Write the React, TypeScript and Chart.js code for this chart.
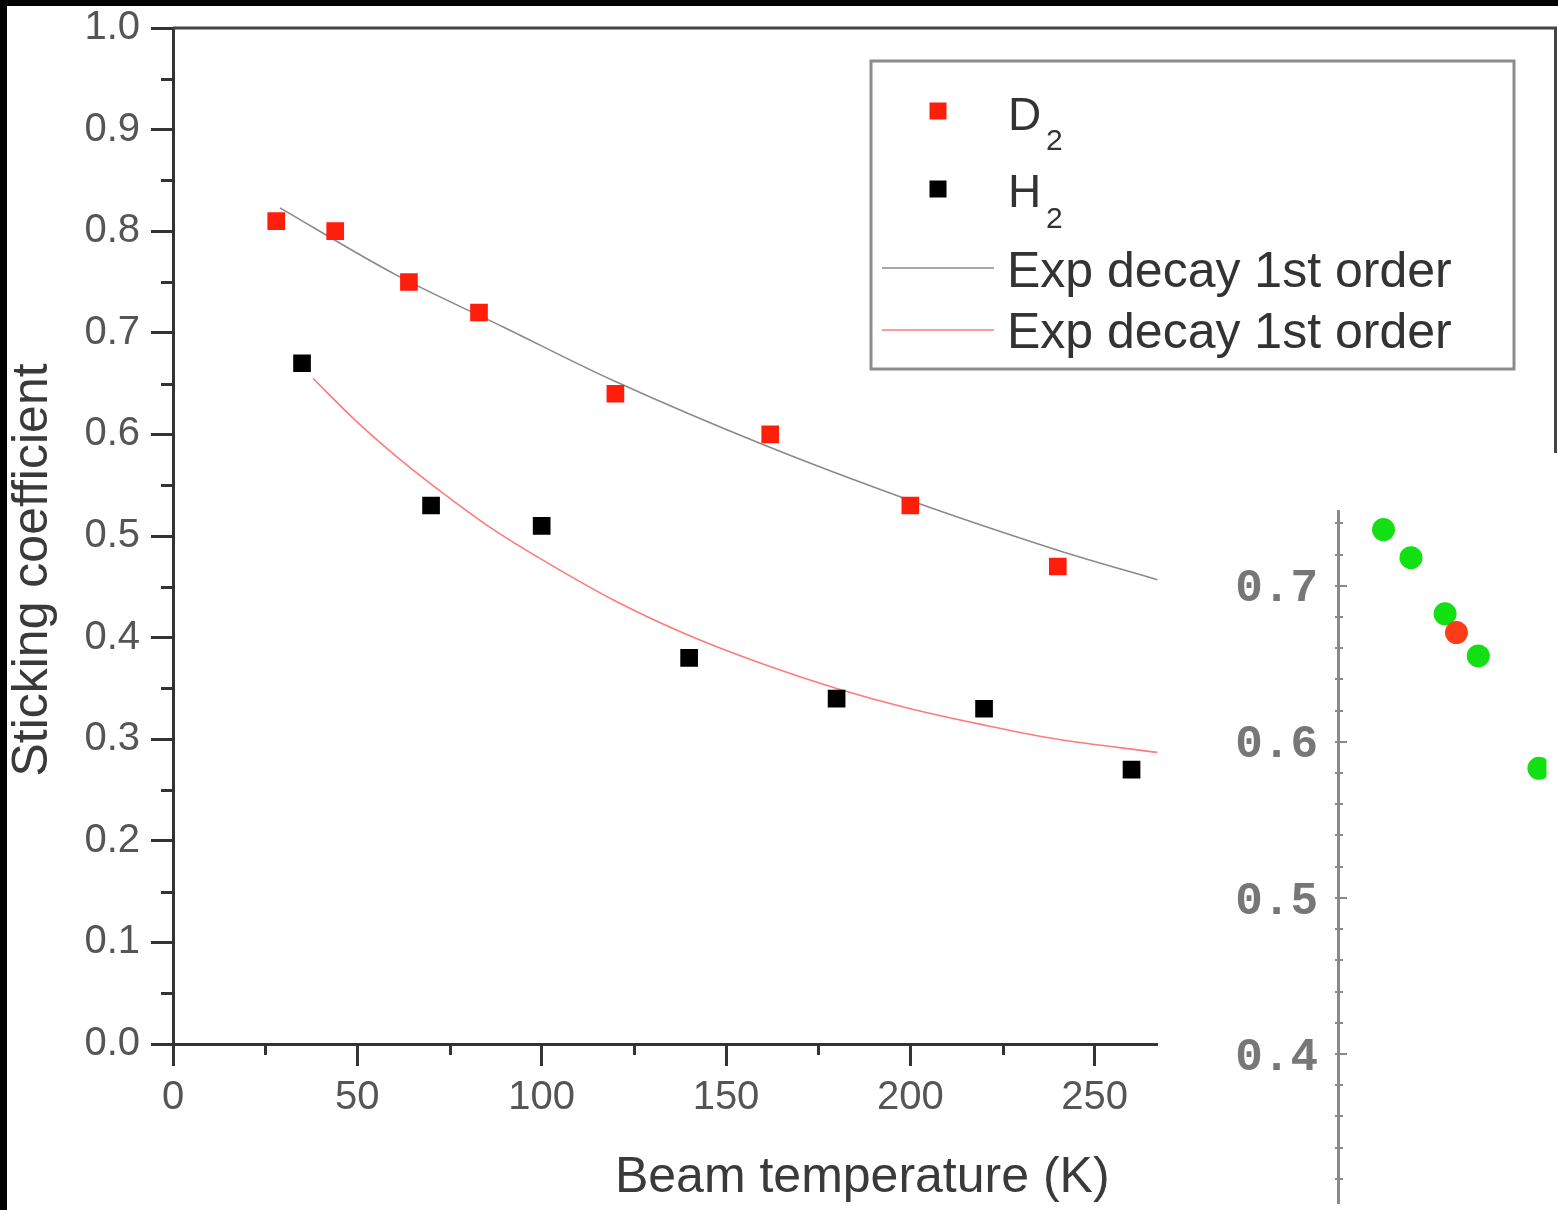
import React, { useEffect, useRef } from "react";
import { Chart, registerables } from "chart.js";
Chart.register(...registerables);

// ---- main chart data ----
const D2_T = [28, 44, 64, 83, 120, 162, 200, 240];
const D2_S = [0.81, 0.80, 0.75, 0.72, 0.64, 0.60, 0.53, 0.47];
const H2_T = [35, 70, 100, 140, 180, 220, 260];
const H2_S = [0.67, 0.53, 0.51, 0.38, 0.34, 0.33, 0.27];
const FIT_D2_T = [29, 60, 90, 120, 160, 200, 240, 267];
const FIT_D2_S = [0.823, 0.758, 0.705, 0.652, 0.590, 0.535, 0.486, 0.457];
const FIT_H2_T = [38, 50, 60, 70, 85, 100, 120, 140, 160, 180, 200, 220, 240, 267];
const FIT_H2_S = [0.655, 0.612, 0.580, 0.551, 0.511, 0.477, 0.436, 0.402, 0.374, 0.350, 0.330, 0.314, 0.300, 0.287];

const X_TICKS = [0, 50, 100, 150, 200, 250];
const X_MINOR = [25, 75, 125, 175, 225];
const Y_TICKS = [0, 0.1, 0.2, 0.3, 0.4, 0.5, 0.6, 0.7, 0.8, 0.9, 1.0];
const Y_MINOR = [0.05, 0.15, 0.25, 0.35, 0.45, 0.55, 0.65, 0.75, 0.85, 0.95];

const X_TITLE = "Beam temperature (K)";
const Y_TITLE = "Sticking coefficient";
const LEGEND_POINT_LABELS = ["D", "H"];
const LEGEND_SUB = "2";
const LEGEND_LINE_LABELS = ["Exp decay 1st order", "Exp decay 1st order"];

// ---- inset chart data ----
const INSET_GREEN_X = [0.48, 0.77, 1.13, 1.48, 2.12];
const INSET_GREEN_Y = [0.736, 0.718, 0.682, 0.655, 0.583];
const INSET_RED_X = [1.25];
const INSET_RED_Y = [0.670];
const INSET_Y_TICKS = [0.4, 0.5, 0.6, 0.7];
const INSET_Y_MINOR = [0.32, 0.34, 0.36, 0.38, 0.42, 0.44, 0.46, 0.48, 0.52, 0.54, 0.56, 0.58, 0.62, 0.64, 0.66, 0.68, 0.72, 0.74];

const RED = "#ff1e0a";
const FIT_GRAY = "#8a8a8a";
const FIT_PINK = "#ff7a7a";
const AXIS = "#333333";
const SANS = '"Liberation Sans", Arial, sans-serif';
const MONO = '"Liberation Mono", "DejaVu Sans Mono", monospace';

const pts = (xs: number[], ys: number[]) => xs.map((x, i) => ({ x, y: ys[i] }));

export default function App() {
  const mainRef = useRef<HTMLCanvasElement | null>(null);
  const insetRef = useRef<HTMLCanvasElement | null>(null);

  useEffect(() => {
    document.body.style.margin = "0";
    const decor = {
      id: "decor",
      afterDraw(chart: any) {
        const ctx = chart.ctx;
        const ca = chart.chartArea;
        const xs = chart.scales.x;
        const ys = chart.scales.y;
        ctx.save();
        // frame top & right
        ctx.strokeStyle = "#444";
        ctx.lineWidth = 3;
        ctx.beginPath();
        ctx.moveTo(ca.left, ca.top);
        ctx.lineTo(ca.right, ca.top);
        ctx.lineTo(ca.right, ca.bottom);
        ctx.stroke();
        // minor ticks
        ctx.strokeStyle = AXIS;
        ctx.lineWidth = 3;
        ctx.beginPath();
        Y_MINOR.forEach((v) => {
          const py = Math.round(ys.getPixelForValue(v)) + 0.5;
          ctx.moveTo(ca.left - 12, py);
          ctx.lineTo(ca.left, py);
        });
        X_MINOR.forEach((v) => {
          const px = Math.round(xs.getPixelForValue(v)) + 0.5;
          ctx.moveTo(px, ca.bottom);
          ctx.lineTo(px, ca.bottom + 11);
        });
        ctx.stroke();
        // axis titles
        ctx.fillStyle = "#3a3a3a";
        ctx.font = "50px " + SANS;
        ctx.textAlign = "center";
        ctx.textBaseline = "alphabetic";
        ctx.fillText(X_TITLE, (ca.left + ca.right) / 2 - 2, ca.bottom + 148);
        ctx.save();
        ctx.translate(47, 570);
        ctx.rotate(-Math.PI / 2);
        ctx.fillText(Y_TITLE, 0, 0);
        ctx.restore();
        // legend
        const lx = 871, ly = 61, lw = 643, lh = 308;
        ctx.fillStyle = "#fff";
        ctx.fillRect(lx, ly, lw, lh);
        ctx.strokeStyle = "#8c8c8c";
        ctx.lineWidth = 3;
        ctx.strokeRect(lx, ly, lw, lh);
        ctx.fillStyle = RED;
        ctx.fillRect(938 - 8.5, 111 - 8.5, 17, 17);
        ctx.fillStyle = "#000";
        ctx.fillRect(938 - 8.5, 189 - 8.5, 17, 17);
        ctx.lineWidth = 1.5;
        ctx.strokeStyle = FIT_GRAY;
        ctx.beginPath();
        ctx.moveTo(882, 268);
        ctx.lineTo(994, 268);
        ctx.stroke();
        ctx.strokeStyle = FIT_PINK;
        ctx.beginPath();
        ctx.moveTo(882, 330);
        ctx.lineTo(994, 330);
        ctx.stroke();
        ctx.fillStyle = "#333";
        ctx.textAlign = "left";
        ctx.font = "46px " + SANS;
        ctx.fillText(LEGEND_POINT_LABELS[0], 1008, 130);
        ctx.fillText(LEGEND_POINT_LABELS[1], 1008, 207);
        ctx.font = "30px " + SANS;
        ctx.fillText(LEGEND_SUB, 1046, 150);
        ctx.fillText(LEGEND_SUB, 1046, 228);
        ctx.font = "50px " + SANS;
        ctx.fillText(LEGEND_LINE_LABELS[0], 1007, 287);
        ctx.fillText(LEGEND_LINE_LABELS[1], 1007, 348);
        ctx.restore();
      },
    };

    const main = new Chart(mainRef.current as HTMLCanvasElement, {
      type: "scatter",
      data: {
        datasets: [
          { label: "D2", data: pts(D2_T, D2_S), pointStyle: "rect", pointRadius: 12.5, backgroundColor: RED, borderColor: RED, borderWidth: 0 } as any,
          { label: "H2", data: pts(H2_T, H2_S), pointStyle: "rect", pointRadius: 12.5, backgroundColor: "#000", borderColor: "#000", borderWidth: 0 } as any,
          { label: "fitD2", data: pts(FIT_D2_T, FIT_D2_S), showLine: true, pointRadius: 0, borderColor: FIT_GRAY, borderWidth: 1.6, tension: 0.35 } as any,
          { label: "fitH2", data: pts(FIT_H2_T, FIT_H2_S), showLine: true, pointRadius: 0, borderColor: FIT_PINK, borderWidth: 1.6, tension: 0.35 } as any,
        ],
      },
      options: {
        animation: false,
        responsive: false,
        devicePixelRatio: 1,
        layout: { padding: { top: 28, right: 0, left: 0, bottom: 0 } },
        plugins: { legend: { display: false }, tooltip: { enabled: false } },
        scales: {
          x: {
            type: "linear",
            min: 0,
            max: 375,
            afterBuildTicks: (s: any) => { s.ticks = X_TICKS.map((v) => ({ value: v })); },
            afterFit: (s: any) => { s.height = 166; s.paddingLeft = 0; s.paddingRight = 0; },
            ticks: { autoSkip: false, maxRotation: 0, padding: 8, color: "#555", font: { size: 40, family: SANS }, callback: (v: any) => String(v) },
            grid: { drawOnChartArea: false, drawTicks: true, tickLength: 22, tickWidth: 3, tickColor: AXIS },
            border: { display: true, color: AXIS, width: 3 },
          },
          y: {
            type: "linear",
            min: 0,
            max: 1,
            afterBuildTicks: (s: any) => { s.ticks = Y_TICKS.map((v) => ({ value: v })); },
            afterFit: (s: any) => { s.width = 173; s.paddingTop = 0; s.paddingBottom = 0; },
            ticks: { autoSkip: false, padding: 11, color: "#555", font: { size: 40, family: SANS }, callback: (v: any) => Number(v).toFixed(1) },
            grid: { drawOnChartArea: false, drawTicks: true, tickLength: 22, tickWidth: 3, tickColor: AXIS },
            border: { display: true, color: AXIS, width: 3 },
          },
        },
      } as any,
      plugins: [decor],
    });

    const insetDecor = {
      id: "insetDecor",
      afterDraw(chart: any) {
        const ctx = chart.ctx;
        const ca = chart.chartArea;
        const ys = chart.scales.y;
        ctx.save();
        ctx.strokeStyle = "#8a8a8a";
        ctx.lineWidth = 2;
        ctx.beginPath();
        INSET_Y_TICKS.forEach((v) => {
          const py = Math.round(ys.getPixelForValue(v));
          ctx.moveTo(ca.left - 3, py);
          ctx.lineTo(ca.left + 9, py);
        });
        INSET_Y_MINOR.forEach((v) => {
          const py = Math.round(ys.getPixelForValue(v));
          ctx.moveTo(ca.left - 3, py);
          ctx.lineTo(ca.left + 5, py);
        });
        ctx.stroke();
        ctx.restore();
      },
    };

    const inset = new Chart(insetRef.current as HTMLCanvasElement, {
      type: "scatter",
      data: {
        datasets: [
          { label: "red", data: pts(INSET_RED_X, INSET_RED_Y), pointStyle: "circle", pointRadius: 11.5, backgroundColor: "#ff3c1a", borderWidth: 0 } as any,
          { label: "green", data: pts(INSET_GREEN_X, INSET_GREEN_Y), pointStyle: "circle", pointRadius: 11.5, backgroundColor: "#12e012", borderWidth: 0 } as any,
        ],
      },
      options: {
        animation: false,
        responsive: false,
        devicePixelRatio: 1,
        layout: { padding: { top: 58, right: 0, left: 0, bottom: 0 } },
        plugins: { legend: { display: false }, tooltip: { enabled: false } },
        scales: {
          x: { type: "linear", min: 0, max: 2.2, display: false },
          y: {
            type: "linear",
            min: 0.3042,
            max: 0.7479,
            afterBuildTicks: (s: any) => { s.ticks = INSET_Y_TICKS.map((v) => ({ value: v })); },
            afterFit: (s: any) => { s.width = 180; s.paddingTop = 0; s.paddingBottom = 0; },
            ticks: { autoSkip: false, padding: 20, labelOffset: 4, color: "#777", font: { size: 46, family: MONO, weight: "bold" }, callback: (v: any) => Number(v).toFixed(1) },
            grid: { drawOnChartArea: false, drawTicks: false },
            border: { display: true, color: "#8a8a8a", width: 3 },
          },
        },
      } as any,
      plugins: [insetDecor],
    });

    return () => {
      main.destroy();
      inset.destroy();
    };
  }, []);

  return (
    <div style={{ position: "relative", width: 1558, height: 1210, overflow: "hidden", background: "#fff" }}>
      <canvas ref={mainRef} width={1568} height={1210} style={{ position: "absolute", left: 0, top: 0 }} />
      <div style={{ position: "absolute", left: 1158, top: 453, width: 400, height: 757, overflow: "hidden", background: "#fff" }}>
        <canvas ref={insetRef} width={400} height={762} style={{ position: "absolute", left: 0, top: 0 }} />
      </div>
      <div style={{ position: "absolute", left: 0, top: 0, width: 1558, height: 6, background: "#000" }} />
      <div style={{ position: "absolute", left: 0, top: 0, width: 7, height: 1210, background: "#000" }} />
    </div>
  );
}
